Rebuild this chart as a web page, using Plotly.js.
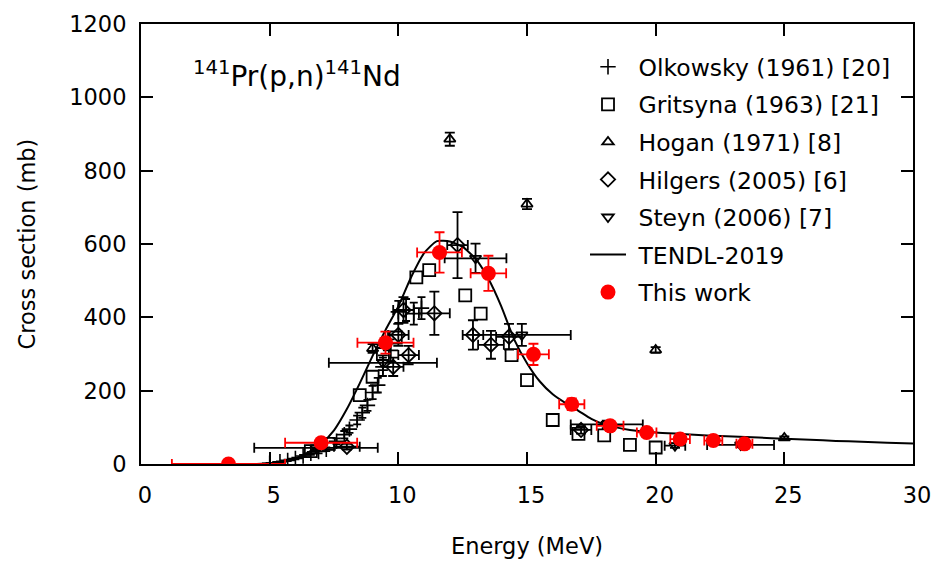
<!DOCTYPE html>
<html><head><meta charset="utf-8">
<script src="https://cdn.plot.ly/plotly-3.0.1.min.js"></script>
<style>html,body{margin:0;padding:0;background:#fff}</style>
</head><body><div id="chart" style="width:935px;height:561px"></div>
<script>
// Olkowsky (1961)
const olkE = [5.0,5.4,5.7,6.0,6.3,6.6,6.9,7.2,7.6,7.9,8.1,8.4,8.6,8.8,9.0,9.2,9.4,9.7,10.0,10.3,10.6,10.9];
const olkS = [2,6,10,15,22,29,34,40,62,80,95,120,140,160,195,215,265,310,415,420,410,425];
const olkErr = [1,1,2,2,3,4,5,5,8,10,10,12,14,15,18,20,25,30,30,30,30,30];
// Gritsyna (1963)
const griE = [6.6,7.3,8.5,9.0,9.4,9.9,10.7,11.2,12.6,13.2,14.4,15.0,16.0,17.0,18.0,19.0,20.0];
const griS = [35,55,188,238,300,345,509,529,460,410,297,229,120,82,78,52,45];
// Hogan (1971)
const hogE = [9.0,12.0,15.0,20.0,25.0];
const hogS = [315,886,709,311,71];
const hogErr = [12,18,14,8,4];
// Hilgers (2005)
const hilE = [8.0,9.8,10.0,10.4,10.2,11.4,12.3,12.9,13.6,14.3,17.1];
const hilS = [47,265,352,297,420,411,597,352,325,347,93];
const hilErrY = [8,25,30,25,35,59,90,40,38,35,10];
const hilErrX = [0.5,0.4,0.4,0.4,0.4,0.6,0.4,0.4,0.5,0.5,0.4];
// Steyn (2006)
const steE = [6.8,9.4,13.0,14.8,18.1,20.75,23.3];
const steS = [44,276,561,352,108,50,52];
const steErrY = [6,20,40,30,10,6,6];
const steErrX = [2.4,2.1,1.2,1.9,1.4,0.4,1.3];
// TENDL-2019
const tenE = [4.5,5,5.5,6,6.5,7,7.5,8,8.5,9,9.5,10,10.5,11,11.5,12,12.5,13,13.5,14,14.5,15,15.5,16,16.5,17,17.5,18,19,20,21,22,23,24,25,26,27,28,29,30];
const tenS = [0,2,6,15,32,55,92,150,220,295,365,430,510,575,608,607,592,560,505,430,340,275,225,190,166,145,123,108,93,86,82,78,75,72,69,66,63,61,58,56];
// This work
const twE = [3.4,7.0,9.5,11.6,13.5,15.25,16.74,18.23,19.65,20.95,22.24,23.45];
const twS = [0,58,331,577,520,299,163,104,86,68,64,55];
const twErrY = [0,8,30,55,48,29,16,10,9,7,6,6];
const twErrX = [2.2,1.4,1.09,0.87,0.69,0.6,0.49,0.52,0.38,0.38,0.35,0.31];

const FONT = '"DejaVu Sans",sans-serif';
const blk = '#000';
const NB = '\u00A0';
function eb(arr, color, w){ return {type:'data', array:arr, visible:true, color:color, thickness:1.8, width:w}; }

const traces = [
  {x:olkE, y:olkS, name:NB+'Olkowsky (1961) [20]', mode:'markers', legendgroup:'a',
   marker:{symbol:'cross-thin-open', size:11, color:blk, line:{width:1.6, color:blk}},
   error_y:eb(olkErr, blk, 4)},
  {x:griE, y:griS, name:NB+'Gritsyna (1963) [21]', mode:'markers', legendgroup:'b',
   marker:{symbol:'square-open', size:12, color:blk, line:{width:1.8}}},
  {x:hogE, y:hogS, name:NB+'Hogan (1971) [8]', mode:'markers', legendgroup:'c',
   marker:{symbol:'triangle-up-open', size:10, color:blk, line:{width:1.8}},
   error_y:eb(hogErr, blk, 5)},
  {x:hilE, y:hilS, name:NB+'Hilgers (2005) [6]', mode:'markers', legendgroup:'d',
   marker:{symbol:'diamond-open', size:11, color:blk, line:{width:1.8}},
   error_y:eb(hilErrY, blk, 5), error_x:eb(hilErrX, blk, 5)},
  {x:steE, y:steS, name:NB+'Steyn (2006) [7]', mode:'markers', legendgroup:'e',
   marker:{symbol:'triangle-down-open', size:10, color:blk, line:{width:1.8}},
   error_y:eb(steErrY, blk, 5), error_x:eb(steErrX, blk, 5)},
  {x:tenE, y:tenS, name:NB+'TENDL-2019', mode:'lines', legendgroup:'f', line:{color:blk, width:2, shape:'spline', smoothing:0.6}},
  {x:twE, y:twS, name:NB+'This work', mode:'markers', legendgroup:'g',
   marker:{symbol:'circle', size:15, color:'#ff0000'},
   error_y:eb(twErrY, '#ff0000', 5), error_x:eb(twErrX, '#ff0000', 5)}
];

const axisCommon = {showline:true, linewidth:2, linecolor:blk, mirror:'ticks', ticks:'inside', ticklen:12, tickwidth:2, tickcolor:blk,
  showgrid:false, zeroline:false, tickfont:{family:FONT, size:22.5, color:blk}};

const layout = {
  width:935, height:561, margin:{l:141, r:22, t:24, b:97},
  paper_bgcolor:'#fff', plot_bgcolor:'#fff', font:{family:FONT, color:blk},
  xaxis:Object.assign({}, axisCommon, {range:[0,30], dtick:5, tick0:0, ticklabelstandoff:10, ticklabelshift:4,
    title:{text:'Energy (MeV)', font:{family:FONT, size:22.5, color:blk}, standoff:31}}),
  yaxis:Object.assign({}, axisCommon, {range:[0,1200], dtick:200, tick0:0, ticklabelstandoff:8,
    title:{text:'Cross section (mb)', font:{family:FONT, size:22.5, color:blk}, standoff:27}}),
  legend:{font:{family:FONT, size:23.5, color:blk}, bgcolor:'rgba(0,0,0,0)',
    tracegroupgap:4, itemwidth:36, traceorder:'grouped', xanchor:'left', yanchor:'top'},
  annotations:[{text:'<sup>141</sup>Pr(p,n)<sup>141</sup>Nd', xref:'paper', yref:'paper', x:(191-141)/772, y:1-(74-24)/440,
    xanchor:'left', yanchor:'middle', showarrow:false, font:{family:FONT, size:28, color:blk}}],
  showlegend:true
};
layout.legend.x = (585-141)/772;
layout.legend.y = 1 - (45-24)/440;

Plotly.newPlot('chart', traces, layout, {displayModeBar:false, staticPlot:true});
</script></body></html>
